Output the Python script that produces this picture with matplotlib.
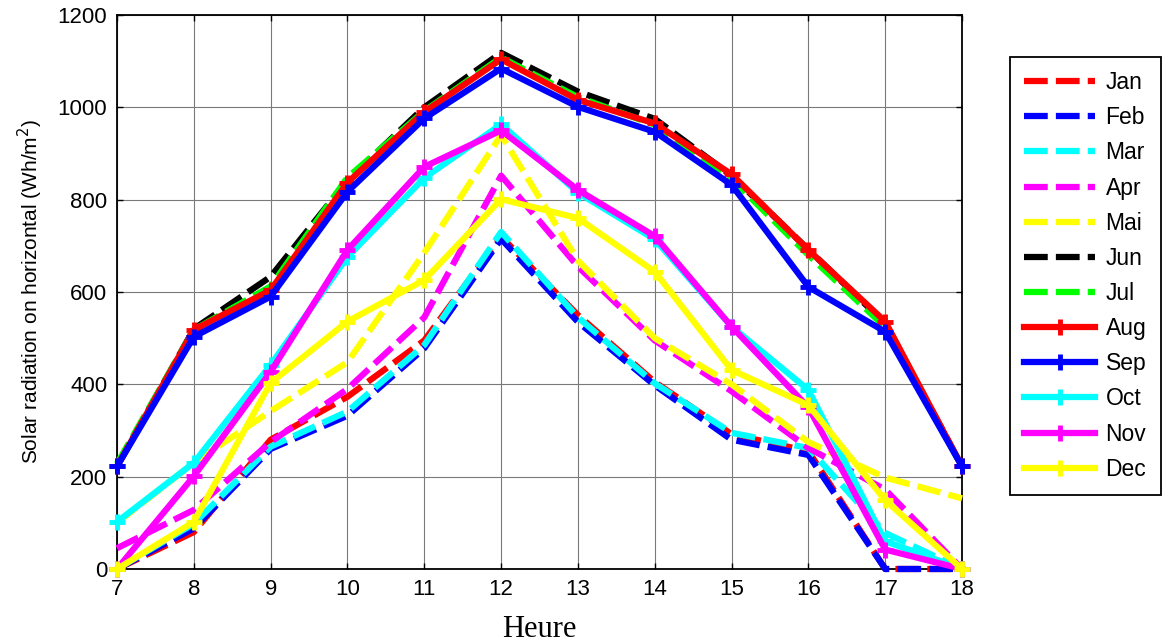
import matplotlib
matplotlib.use("Agg")
import matplotlib.pyplot as plt

hours = [7, 8, 9, 10, 11, 12, 13, 14, 15, 16, 17, 18]

Jan = [0, 80, 280, 373, 495, 720, 550, 405, 292, 255, 0, 0]
Feb = [0, 88, 260, 332, 478, 715, 535, 398, 280, 247, 0, 0]
Mar = [0, 98, 265, 341, 485, 730, 545, 402, 295, 262, 78, 0]
Apr = [45, 128, 275, 390, 545, 852, 655, 495, 385, 262, 172, 0]
Mai = [100, 230, 342, 448, 685, 940, 668, 500, 400, 275, 198, 153]
Jun = [222, 520, 633, 842, 1000, 1118, 1034, 975, 852, 692, 532, 222]
Jul = [228, 518, 612, 848, 992, 1108, 1022, 962, 845, 680, 524, 222]
Aug = [222, 518, 604, 837, 990, 1104, 1016, 965, 855, 691, 536, 222]
Sep = [222, 503, 590, 817, 976, 1084, 1001, 947, 832, 611, 514, 222]
Oct = [102, 230, 442, 676, 847, 963, 815, 714, 525, 388, 60, 0]
Nov = [0, 201, 427, 691, 871, 950, 821, 721, 525, 350, 42, 0]
Dec = [0, 102, 403, 536, 626, 801, 760, 644, 431, 355, 149, 0]

labels = ["Jan", "Feb", "Mar", "Apr", "Mai", "Jun", "Jul",
          "Aug", "Sep", "Oct", "Nov", "Dec"]
series = [Jan, Feb, Mar, Apr, Mai, Jun, Jul, Aug, Sep, Oct, Nov, Dec]
colors = ["#ff0000", "#0000ff", "#00ffff", "#ff00ff", "#ffff00", "#000000",
          "#00ff00", "#ff0000", "#0000ff", "#00ffff", "#ff00ff", "#ffff00"]
dashed = [True] * 7 + [False] * 5

plt.rcParams["font.family"] = ["Liberation Sans", "DejaVu Sans"]

fig = plt.figure(figsize=(11.64, 6.43), dpi=100)
ax = fig.add_axes([0.1005, 0.1151, 0.7260, 0.8616])

for lab, vals, col, d in zip(labels, series, colors, dashed):
    if d:
        ax.plot(hours, vals, color=col, lw=4.5, linestyle=(0, (3.8, 1.3)),
                label=lab, clip_on=False, zorder=3)
    else:
        ax.plot(hours, vals, color=col, lw=4.5, marker="+", markersize=12,
                markeredgewidth=3.5, label=lab, clip_on=False, zorder=3)

ax.set_xlim(7, 18)
ax.set_ylim(0, 1200)
ax.set_xticks(hours)
ax.set_yticks([0, 200, 400, 600, 800, 1000, 1200])
ax.grid(True, color="#7a7a7a", lw=0.8)
ax.set_axisbelow(True)
ax.tick_params(direction="in", length=4, width=1, top=True, right=True,
               labelsize=16, pad=7, colors="black")
for s in ax.spines.values():
    s.set_linewidth(1.3)

ax.set_ylabel("Solar radiation on horizontal (Wh/m$^2$)", fontsize=15,
              labelpad=9)
ax.set_xlabel("Heure", fontsize=22, family=["Liberation Serif"], labelpad=11)

leg = fig.legend(loc="upper left", bbox_to_anchor=(0.8677, 0.9114),
                 bbox_transform=fig.transFigure, fontsize=16.5,
                 handlelength=3.1, handletextpad=0.45, labelspacing=0.53,
                 borderpad=0.62, borderaxespad=0, fancybox=False,
                 edgecolor="black", framealpha=1)
leg.get_frame().set_linewidth(1.3)

fig.savefig("out.png", dpi=100)
